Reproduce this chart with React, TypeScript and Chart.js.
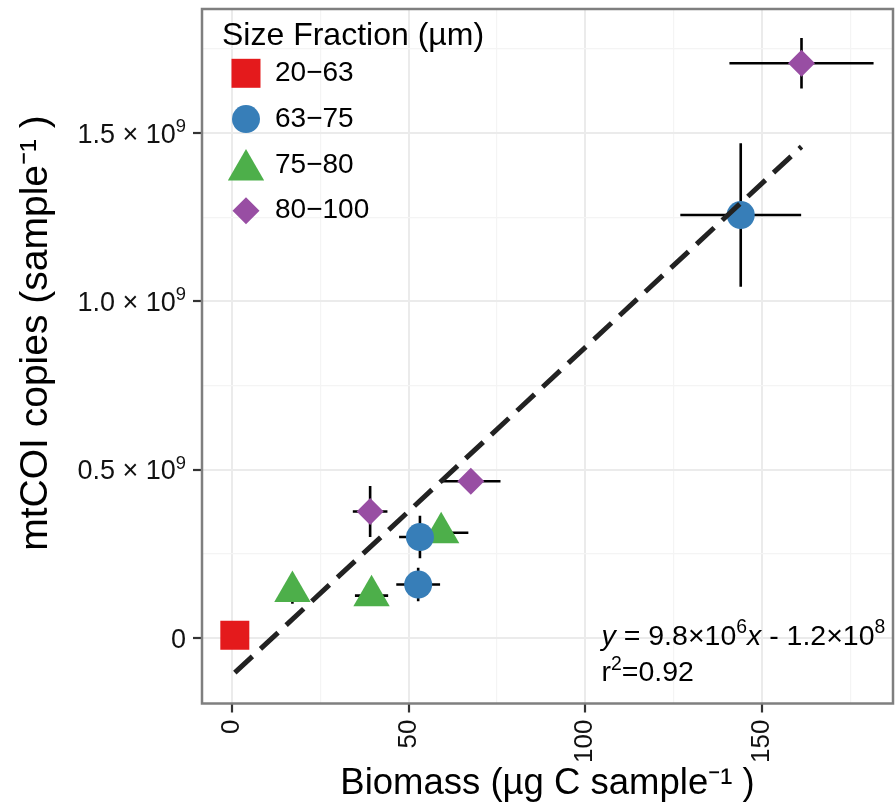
import React, { useEffect, useRef } from 'react';
import { Chart, registerables } from 'chart.js';

Chart.register(...registerables);

// ---- data ----
const sizeFractions = ['20−63', '63−75', '75−80', '80−100'];
const fractionColors = ['#E41A1C', '#377EB8', '#4DAF4A', '#984EA3'];
const fractionShapes = ['rect', 'circle', 'triangle', 'rectRot'];
const fractionRadii = [20.5, 14, 21, 13.5];

const biomass20to63 = [0.8];
const biomassErr20to63 = [0];
const copies20to63 = [0.008e9];
const copiesErr20to63 = [0];

const biomass63to75 = [52.7, 53.2, 144.0];
const biomassErr63to75 = [6.2, 5.9, 17.1];
const copies63to75 = [0.159e9, 0.3e9, 1.257e9];
const copiesErr63to75 = [0.05e9, 0.063e9, 0.213e9];

const biomass75to80 = [17.1, 39.5, 59.2];
const biomassErr75to80 = [2.0, 4.7, 7.7];
const copies75to80 = [0.138e9, 0.126e9, 0.313e9];
const copiesErr75to80 = [0.036e9, 0.01e9, 0.02e9];

const biomass80to100 = [39.1, 67.6, 161.2];
const biomassErr80to100 = [4.9, 8.4, 20.4];
const copies80to100 = [0.376e9, 0.466e9, 1.708e9];
const copiesErr80to100 = [0.076e9, 0.02e9, 0.075e9];

// regression line (end points of the fitted line)
const fitBiomass = [0.8, 161.2];
const fitCopies = [-0.103e9, 1.46e9];

const xGridValues = [0, 25, 50, 75, 100, 125, 150, 175];
const xTickValues = [0, 50, 100, 150];
const xTickLabels = ['0', '50', '100', '150'];
const yGridValues = [0, 0.25e9, 0.5e9, 0.75e9, 1.0e9, 1.25e9, 1.5e9, 1.75e9];
const yTickValues = [0, 0.5e9, 1.0e9, 1.5e9];
const yTickLabels = ['0', '0.5 × 10^9', '1.0 × 10^9', '1.5 × 10^9'];

const xRange = [-8.49, 187.1];
const yRange = [-0.1945e9, 1.869e9];

const legendTitle = 'Size Fraction (µm)';
const xTitle = 'Biomass (µg C sample⁻¹ )';
const yTitle = 'mtCOI copies (sample⁻¹ )';
const annotAnchor = [104.6, -0.0193e9];

const FONT = "'Liberation Sans', Arial, Helvetica, sans-serif";

function drawShape(ctx: CanvasRenderingContext2D, style: string, x: number, y: number, r: number) {
  ctx.beginPath();
  if (style === 'rect') {
    const s = Math.SQRT1_2 * r;
    ctx.rect(x - s, y - s, 2 * s, 2 * s);
  } else if (style === 'circle') {
    ctx.arc(x, y, r, 0, Math.PI * 2);
  } else if (style === 'triangle') {
    ctx.moveTo(x, y - r);
    ctx.lineTo(x + Math.sin((2 * Math.PI) / 3) * r, y - Math.cos((2 * Math.PI) / 3) * r);
    ctx.lineTo(x + Math.sin((4 * Math.PI) / 3) * r, y - Math.cos((4 * Math.PI) / 3) * r);
  } else {
    ctx.moveTo(x - r, y);
    ctx.lineTo(x, y - r);
    ctx.lineTo(x + r, y);
    ctx.lineTo(x, y + r);
  }
  ctx.closePath();
  ctx.fill();
}

type Piece = { t: string; it?: boolean; sup?: boolean };
function richWidth(ctx: CanvasRenderingContext2D, pieces: Piece[], size: number) {
  let w = 0;
  for (const p of pieces) {
    const fs = p.sup ? size * 0.68 : size;
    ctx.font = `${p.it ? 'italic ' : ''}${fs}px ${FONT}`;
    w += ctx.measureText(p.t).width;
  }
  return w;
}
function drawRich(ctx: CanvasRenderingContext2D, x: number, y: number, pieces: Piece[], size: number) {
  let cx = x;
  ctx.textBaseline = 'alphabetic';
  ctx.textAlign = 'left';
  for (const p of pieces) {
    const fs = p.sup ? size * 0.68 : size;
    ctx.font = `${p.it ? 'italic ' : ''}${fs}px ${FONT}`;
    ctx.fillText(p.t, cx, p.sup ? y - size * 0.4 : y);
    cx += ctx.measureText(p.t).width;
  }
}
function toPieces(label: string): Piece[] {
  const [base, exp] = label.split('^');
  return exp ? [{ t: base }, { t: exp, sup: true }] : [{ t: base }];
}

const errorBarPlugin = {
  id: 'errorBars',
  beforeDatasetsDraw(chart: any) {
    const { ctx, scales } = chart;
    ctx.save();
    ctx.strokeStyle = '#000';
    ctx.lineWidth = 2.6;
    chart.data.datasets.forEach((ds: any) => {
      if (!ds.xErr) return;
      ds.data.forEach((pt: any, i: number) => {
        const xe = ds.xErr[i];
        const ye = ds.yErr[i];
        const px = scales.x.getPixelForValue(pt.x);
        const py = scales.y.getPixelForValue(pt.y);
        ctx.beginPath();
        if (xe > 0) {
          ctx.moveTo(scales.x.getPixelForValue(pt.x - xe), py);
          ctx.lineTo(scales.x.getPixelForValue(pt.x + xe), py);
        }
        if (ye > 0) {
          ctx.moveTo(px, scales.y.getPixelForValue(pt.y - ye));
          ctx.lineTo(px, scales.y.getPixelForValue(pt.y + ye));
        }
        ctx.stroke();
      });
    });
    ctx.restore();
  },
};

const decorPlugin = {
  id: 'decor',
  afterDraw(chart: any) {
    const { ctx, chartArea, scales } = chart;
    ctx.save();
    // panel border
    ctx.strokeStyle = '#7f7f7f';
    ctx.lineWidth = 2.5;
    ctx.strokeRect(chartArea.left, chartArea.top, chartArea.right - chartArea.left, chartArea.bottom - chartArea.top);

    // y tick labels (with superscript exponents)
    ctx.fillStyle = '#111';
    const tickSize = 27;
    yTickValues.forEach((v, i) => {
      const pieces = toPieces(yTickLabels[i]);
      const w = richWidth(ctx, pieces, tickSize);
      const ty = scales.y.getPixelForValue(v);
      drawRich(ctx, chartArea.left - 16 - w, ty + tickSize * 0.358, pieces, tickSize);
    });

    // y axis title
    ctx.save();
    ctx.translate(36, 333);
    ctx.rotate(-Math.PI / 2);
    ctx.fillStyle = '#000';
    ctx.font = `39px ${FONT}`;
    ctx.textAlign = 'center';
    ctx.textBaseline = 'middle';
    ctx.fillText(yTitle, 0, 0);
    ctx.restore();

    // legend
    ctx.fillStyle = '#000';
    ctx.font = `32px ${FONT}`;
    ctx.textAlign = 'left';
    ctx.textBaseline = 'middle';
    ctx.fillText(legendTitle, chartArea.left + 20, chartArea.top + 27.5);
    sizeFractions.forEach((label, i) => {
      const rowY = chartArea.top + 64.3 + i * 45.8;
      const shapeY = fractionShapes[i] === 'triangle' ? rowY + 5 : rowY;
      ctx.fillStyle = fractionColors[i];
      drawShape(ctx, fractionShapes[i], chartArea.left + 44, shapeY, fractionRadii[i]);
      ctx.fillStyle = '#000';
      ctx.font = `28px ${FONT}`;
      ctx.textBaseline = 'middle';
      ctx.textAlign = 'left';
      ctx.fillText(label, chartArea.left + 73, rowY);
    });

    // regression annotation
    const ax = scales.x.getPixelForValue(annotAnchor[0]);
    const ay = scales.y.getPixelForValue(annotAnchor[1]);
    ctx.fillStyle = '#000';
    drawRich(ctx, ax, ay, [
      { t: 'y', it: true },
      { t: ' = 9.8×10' },
      { t: '6', sup: true },
      { t: 'x', it: true },
      { t: ' - 1.2×10' },
      { t: '8', sup: true },
    ], 28.5);
    drawRich(ctx, ax, ay + 36.7, [{ t: 'r' }, { t: '2', sup: true }, { t: '=0.92' }], 28.5);
    ctx.restore();
  },
};

function makeSet(i: number, xs: number[], ys: number[], xe: number[], ye: number[]) {
  return {
    label: sizeFractions[i],
    data: xs.map((x, k) => ({ x, y: ys[k] })),
    xErr: xe,
    yErr: ye,
    pointStyle: fractionShapes[i],
    pointRadius: fractionRadii[i],
    pointHoverRadius: fractionRadii[i],
    backgroundColor: fractionColors[i],
    borderColor: fractionColors[i],
    pointBorderWidth: 0,
    borderWidth: 0,
    order: 2,
  };
}

const zeroPad = (s: any) => {
  s.paddingLeft = 0;
  s.paddingRight = 0;
  s.paddingTop = 0;
  s.paddingBottom = 0;
};

export default function App() {
  const ref = useRef<HTMLCanvasElement>(null);
  useEffect(() => {
    if (!ref.current) return;
    const majorX = (v: number) => xTickValues.indexOf(v);
    const majorY = (v: number) => yTickValues.indexOf(v);
    const chart = new Chart(ref.current, {
      type: 'scatter',
      data: {
        datasets: [
          makeSet(0, biomass20to63, copies20to63, biomassErr20to63, copiesErr20to63),
          makeSet(1, biomass63to75, copies63to75, biomassErr63to75, copiesErr63to75),
          makeSet(2, biomass75to80, copies75to80, biomassErr75to80, copiesErr75to80),
          makeSet(3, biomass80to100, copies80to100, biomassErr80to100, copiesErr80to100),
          {
            label: 'fit',
            data: fitBiomass.map((x, k) => ({ x, y: fitCopies[k] })),
            showLine: true,
            borderColor: '#222',
            borderWidth: 5,
            borderDash: [24, 11],
            pointRadius: 0,
            pointHoverRadius: 0,
            order: 0,
          } as any,
        ] as any,
      },
      options: {
        animation: false,
        responsive: false,
        devicePixelRatio: 1,
        layout: { autoPadding: false, padding: { top: 9, right: 3, left: 0, bottom: 0 } },
        plugins: { legend: { display: false }, tooltip: { enabled: false } },
        scales: {
          x: {
            type: 'linear',
            min: xRange[0],
            max: xRange[1],
            afterBuildTicks: (s: any) => { s.ticks = xGridValues.map((value) => ({ value })); },
            afterFit: (s: any) => { s.height = 107.5; zeroPad(s); },
            border: { display: false },
            grid: {
              color: (c: any) => (majorX(c.tick.value) >= 0 ? '#ebebeb' : '#f4f4f4'),
              lineWidth: (c: any) => (majorX(c.tick.value) >= 0 ? 2 : 1.2),
              tickColor: (c: any) => (majorX(c.tick.value) >= 0 ? '#333' : 'rgba(0,0,0,0)'),
              tickWidth: 2.2,
              tickLength: 9,
              drawTicks: true,
            },
            ticks: {
              autoSkip: false,
              minRotation: 90,
              maxRotation: 90,
              padding: 7,
              color: '#111',
              font: { family: FONT, size: 26 },
              callback: (v: any) => { const i = majorX(Number(v)); return i >= 0 ? xTickLabels[i] : ''; },
            },
            title: {
              display: true,
              text: xTitle,
              color: '#000',
              font: { family: FONT, size: 36.5 },
              padding: { top: 0, bottom: 5 },
            },
          },
          y: {
            type: 'linear',
            min: yRange[0],
            max: yRange[1],
            afterBuildTicks: (s: any) => { s.ticks = yGridValues.map((value) => ({ value })); },
            afterFit: (s: any) => { s.width = 202; zeroPad(s); },
            border: { display: false },
            grid: {
              color: (c: any) => (majorY(c.tick.value) >= 0 ? '#ebebeb' : '#f4f4f4'),
              lineWidth: (c: any) => (majorY(c.tick.value) >= 0 ? 2 : 1.2),
              tickColor: (c: any) => (majorY(c.tick.value) >= 0 ? '#333' : 'rgba(0,0,0,0)'),
              tickWidth: 2.2,
              tickLength: 9,
              drawTicks: true,
            },
            ticks: {
              autoSkip: false,
              padding: 6,
              font: { family: FONT, size: 26 },
              callback: () => '',
            },
            title: { display: false },
          },
        },
      } as any,
      plugins: [errorBarPlugin, decorPlugin],
    });
    return () => chart.destroy();
  }, []);
  return (
    <div style={{ position: 'absolute', left: 0, top: 0, width: 896, height: 811, background: '#fff' }}>
      <canvas ref={ref} width={896} height={811} />
    </div>
  );
}
